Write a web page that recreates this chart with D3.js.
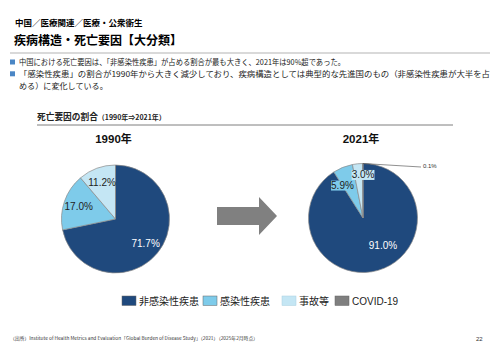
<!DOCTYPE html>
<html>
<head>
<meta charset="utf-8">
<script src="https://cdn.jsdelivr.net/npm/d3@7"></script>
<style>
  body { margin: 0; background: #fff; }
  svg { display: block; }
  .jp { font-family: "Noto Sans CJK JP", "Noto Sans", sans-serif; }
  .num { font-family: "Liberation Sans", Arial, sans-serif; }
</style>
</head>
<body>
<div id="chart"></div>
<script>
// data
var categories = ["非感染性疾患", "感染性疾患", "事故等", "COVID-19"];
var years = ["1990年", "2021年"];
var share1990 = [71.7, 17.0, 11.2, 0];
var share2021 = [91.0, 5.9, 3.0, 0.1];
var bullets = [
  ["中国における死亡要因は、「非感染性疾患」が占める割合が最も大きく、2021年は90%超であった。"],
  ["「感染性疾患」の割合が1990年から大きく減少しており、疾病構造としては典型的な先進国のもの（非感染性疾患が大半を占",
   "める）に変化している。"]
];

var colors = ["#1f497d", "#7ecbea", "#c4e6f4", "#7f7f7f"];
var labelColors = ["#fff", "#222", "#222", "#222"];

var width = 500, height = 353;

var svg = d3.select("#chart").append("svg")
    .attr("width", width)
    .attr("height", height);

/**
 * Page header and bullets.
 */
var drawHeader = function() {
  svg.append("text").attr("class", "jp")
      .attr("x", 15).attr("y", 26)
      .style("font-size", "8.5px").style("font-weight", "bold")
      .text("中国／医療関連／医療・公衆衛生");
  svg.append("text").attr("class", "jp")
      .attr("x", 14).attr("y", 45)
      .style("font-size", "12px").style("font-weight", "bold")
      .text("疾病構造・死亡要因【大分類】");
  svg.append("line")
      .attr("x1", 10).attr("x2", 490).attr("y1", 53).attr("y2", 53)
      .style("stroke", "#d9d9d9").style("stroke-width", 2);

  // fitted widths of the wrapped lines (layout only)
  var fitWidths = [[326], [471, null]];
  var lineY = 65;
  bullets.forEach(function(lines, b) {
    svg.append("rect")
        .attr("x", 10).attr("y", lineY - 5.5)
        .attr("width", 5).attr("height", 5)
        .style("fill", "#4a86c5");
    lines.forEach(function(l, k) {
      var t = svg.append("text").attr("class", "jp")
          .attr("x", 19).attr("y", lineY)
          .style("font-size", "8.1px").style("fill", "#222")
          .text(l);
      if (fitWidths[b][k]) {
        t.attr("textLength", fitWidths[b][k]).attr("lengthAdjust", "spacingAndGlyphs");
      }
      lineY += 11.8;
    });
  });

  var sec = svg.append("text").attr("class", "jp")
      .attr("x", 37).attr("y", 120)
      .style("font-weight", "bold").style("fill", "#222");
  sec.append("tspan").style("font-size", "8.7px").text("死亡要因の割合");
  sec.append("tspan").style("font-size", "7px").text("（1990年⇒2021年）");
  svg.append("line")
      .attr("x1", 37).attr("x2", 453).attr("y1", 125).attr("y2", 125)
      .style("stroke", "#7f7f7f").style("stroke-width", 1);
};

// label nudges (layout only)
var nudges = [
  [[0, 0], [0, 0], [0, 0], [0, 0]],
  [[9, -10], [-6, 4], [4, -4], [0, 0]]
];

/**
 * Draws one pie.
 */
var drawPie = function(values, idx, cx, cy, r) {
  var g = svg.append("g").attr("transform", "translate(" + cx + "," + cy + ")");

  svg.append("text").attr("class", "num")
      .attr("x", cx - 2).attr("y", 143)
      .attr("text-anchor", "middle")
      .style("font-size", "11.5px").style("font-weight", "bold").style("fill", "#111")
      .text(years[idx].replace("年", ""))
    .append("tspan").attr("class", "jp").style("font-size", "11px").text("年");

  var pie = d3.pie().sort(null).value(function(d) { return d; });
  var arcs = pie(values);
  var arc = d3.arc().innerRadius(0).outerRadius(r);
  var labelArc = d3.arc().innerRadius(r * 0.72).outerRadius(r * 0.72);

  g.selectAll("path")
      .data(arcs)
    .enter().append("path")
      .attr("d", arc)
      .style("fill", function(d, i) { return colors[i]; })
      .style("stroke", "#8a8a8a")
      .style("stroke-width", 0.7);

  arcs.forEach(function(d, i) {
    if (d.data <= 0) return;
    var label = d.data.toFixed(1) + "%";
    if (d.data < 1) {
      // leader line for the tiny slice
      var a = (d.startAngle + d.endAngle) / 2;
      var px = Math.sin(a) * r, py = -Math.cos(a) * r;
      g.append("line")
          .attr("x1", px).attr("y1", py)
          .attr("x2", 58).attr("y2", -51)
          .style("stroke", "#444").style("stroke-width", 0.6);
      g.append("text").attr("class", "num")
          .attr("x", 60).attr("y", -50)
          .style("font-size", "6px").style("fill", "#333")
          .text(label);
      return;
    }
    var c = labelArc.centroid(d);
    var x = c[0] + nudges[idx][i][0], y = c[1] + nudges[idx][i][1];
    if (idx === 1 && i > 0) {
      var bw = label.length * 5.2 + 2;
      g.append("rect")
          .attr("x", x - bw / 2).attr("y", y - 5)
          .attr("width", bw).attr("height", 10)
          .style("fill", colors[i]);
    }
    g.append("text").attr("class", "num")
        .attr("x", x).attr("y", y)
        .attr("text-anchor", "middle")
        .attr("dominant-baseline", "central")
        .style("font-size", "10px")
        .style("fill", labelColors[i])
        .text(label);
  });
};

/**
 * Arrow between the two pies.
 */
var drawArrow = function() {
  var pts = [[217, 207], [259, 207], [259, 197], [277, 216], [259, 235], [259, 225], [217, 225]];
  svg.append("path")
      .attr("d", d3.line()(pts) + "Z")
      .style("fill", "#808080");
};

/**
 * Legend row.
 */
var drawLegend = function() {
  var xs = [122, 203, 282, 335];
  var lg = svg.append("g").attr("transform", "translate(0,296)");
  categories.forEach(function(c, i) {
    lg.append("rect")
        .attr("x", xs[i]).attr("y", 0)
        .attr("width", 14).attr("height", 9.5)
        .style("fill", colors[i])
        .style("stroke", i === 2 ? "#a9cfe0" : "#666")
        .style("stroke-width", 0.5);
    lg.append("text").attr("class", i === 3 ? "num" : "jp")
        .attr("x", xs[i] + 17).attr("y", 8.5)
        .style("font-size", "10px").style("fill", "#222")
        .text(c);
  });
};

var drawFooter = function() {
  svg.append("text").attr("class", "jp")
      .attr("x", 10).attr("y", 340)
      .attr("textLength", 248).attr("lengthAdjust", "spacingAndGlyphs")
      .style("font-size", "4.6px").style("fill", "#333")
      .text("（出所）Institute of Health Metrics and Evaluation「Global Burden of Disease Study」（2021）（2025年2月時点）");
  svg.append("text").attr("class", "num")
      .attr("x", 476).attr("y", 341)
      .style("font-size", "6px").style("fill", "#333")
      .text("22");
};

drawHeader();
drawPie(share1990, 0, 115.5, 219, 54);
drawPie(share2021, 1, 363, 218, 54.5);
drawArrow();
drawLegend();
drawFooter();
</script>
</body>
</html>
